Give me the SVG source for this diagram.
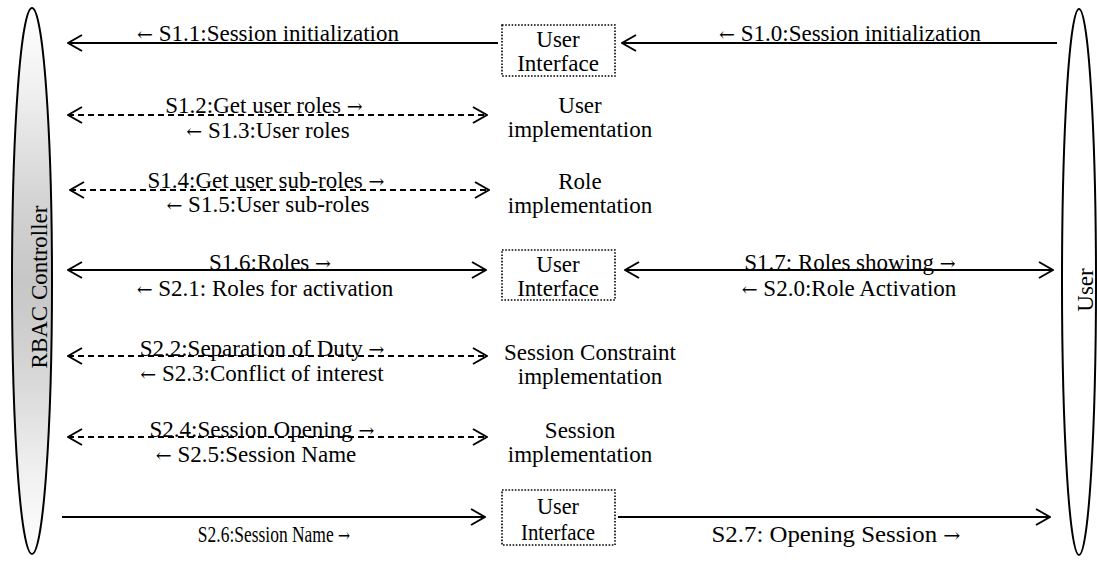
<svg xmlns="http://www.w3.org/2000/svg" width="1097" height="564" viewBox="0 0 1097 564">
<style>
text{font-family:"Liberation Serif","Times New Roman",serif;font-size:23px;fill:#000;text-anchor:middle}
.ar{font-family:"DejaVu Serif","DejaVu Sans",serif;font-size:19px}
.s{stroke:#000;stroke-width:2;fill:none}
.d{stroke:#000;stroke-width:1.8;fill:none;stroke-dasharray:6 4}
.box{fill:#fff;stroke:#000;stroke-width:1.6;stroke-dasharray:1.6 1.6}
</style>
<defs>
<linearGradient id="g" x1="0" y1="0" x2="0" y2="1">
<stop offset="0" stop-color="#fff"/>
<stop offset="0.15" stop-color="#f0f0f0"/>
<stop offset="0.35" stop-color="#d4d4d4"/>
<stop offset="0.5" stop-color="#c6c6c6"/>
<stop offset="0.65" stop-color="#d4d4d4"/>
<stop offset="0.85" stop-color="#f0f0f0"/>
<stop offset="1" stop-color="#fff"/>
</linearGradient>
<marker id="a" viewBox="0 0 16 18" refX="15" refY="9" markerWidth="16" markerHeight="18" markerUnits="userSpaceOnUse" orient="auto-start-reverse">
<path d="M1,1 L15,9 L1,17" fill="none" stroke="#000" stroke-width="2"/>
</marker>
</defs>

<g id="rbac">
<ellipse cx="32" cy="281" rx="20" ry="273" fill="url(#g)" stroke="#000" stroke-width="2"/>
<text transform="translate(47,287) rotate(-90)">RBAC Controller</text>
</g>
<g id="user">
<ellipse cx="1079" cy="282" rx="17" ry="273" fill="#fff" stroke="#000" stroke-width="2"/>
<text transform="translate(1093,290) rotate(-90)">User</text>
</g>

<g id="ui1">
<rect class="box" x="502" y="25" width="113" height="51"/>
<text x="558" y="47">User</text>
<text x="558" y="71">Interface</text>
</g>
<g id="userimpl">
<text x="580" y="113">User</text>
<text x="580" y="137">implementation</text>
</g>
<g id="roleimpl">
<text x="580" y="189">Role</text>
<text x="580" y="213">implementation</text>
</g>
<g id="ui2">
<rect class="box" x="502" y="250" width="113" height="50"/>
<text x="558" y="272">User</text>
<text x="558" y="296">Interface</text>
</g>
<g id="scimpl">
<text x="590" y="360">Session Constraint</text>
<text x="590" y="384">implementation</text>
</g>
<g id="simpl">
<text x="580" y="438">Session</text>
<text x="580" y="462">implementation</text>
</g>
<g id="ui3">
<rect class="box" x="502" y="490" width="113" height="55"/>
<text x="558" y="514" textLength="42" lengthAdjust="spacingAndGlyphs">User</text>
<text x="558" y="540" textLength="74" lengthAdjust="spacingAndGlyphs">Interface</text>
</g>

<g id="connectors">
<line class="s" x1="498" y1="43" x2="68" y2="43" marker-end="url(#a)"/>
<line class="s" x1="1057" y1="43" x2="622" y2="43" marker-end="url(#a)"/>
<line class="d" x1="68" y1="115" x2="487" y2="115" marker-start="url(#a)" marker-end="url(#a)"/>
<line class="d" x1="70" y1="190" x2="489" y2="190" marker-start="url(#a)" marker-end="url(#a)"/>
<line class="s" x1="68" y1="270" x2="486" y2="270" marker-start="url(#a)" marker-end="url(#a)"/>
<line class="s" x1="625" y1="270" x2="1053" y2="270" marker-start="url(#a)" marker-end="url(#a)"/>
<line class="d" x1="68" y1="356" x2="487" y2="356" marker-start="url(#a)" marker-end="url(#a)"/>
<line class="d" x1="68" y1="437" x2="487" y2="437" marker-start="url(#a)" marker-end="url(#a)"/>
<line class="s" x1="62" y1="517" x2="485" y2="517" marker-end="url(#a)"/>
<line class="s" x1="618" y1="517" x2="1050" y2="517" marker-end="url(#a)"/>

<text x="268" y="41"><tspan class="ar">←</tspan> S1.1:Session initialization</text>
<text x="850" y="41"><tspan class="ar">←</tspan> S1.0:Session initialization</text>
<text x="264" y="113">S1.2:Get user roles <tspan class="ar">→</tspan></text>
<text x="268" y="138"><tspan class="ar">←</tspan> S1.3:User roles</text>
<text x="266" y="188">S1.4:Get user sub-roles <tspan class="ar">→</tspan></text>
<text x="268" y="212"><tspan class="ar">←</tspan> S1.5:User sub-roles</text>
<text x="270" y="270">S1.6:Roles <tspan class="ar">→</tspan></text>
<text x="265" y="296"><tspan class="ar">←</tspan> S2.1: Roles for activation</text>
<text x="850" y="270">S1.7: Roles showing <tspan class="ar">→</tspan></text>
<text x="849" y="296"><tspan class="ar">←</tspan> S2.0:Role Activation</text>
<text x="262" y="356">S2.2:Separation of Duty  <tspan class="ar">→</tspan></text>
<text x="262" y="381"><tspan class="ar">←</tspan> S2.3:Conflict of interest</text>
<text x="262" y="437">S2.4:Session Opening  <tspan class="ar">→</tspan></text>
<text x="256" y="462"><tspan class="ar">←</tspan> S2.5:Session Name</text>
<text transform="translate(274,542) scale(0.76,1)">S2.6:Session Name <tspan class="ar">→</tspan></text>
<text transform="translate(836,542) scale(1.08,1)">S2.7: Opening Session <tspan class="ar">→</tspan></text>
</g>
</svg>
